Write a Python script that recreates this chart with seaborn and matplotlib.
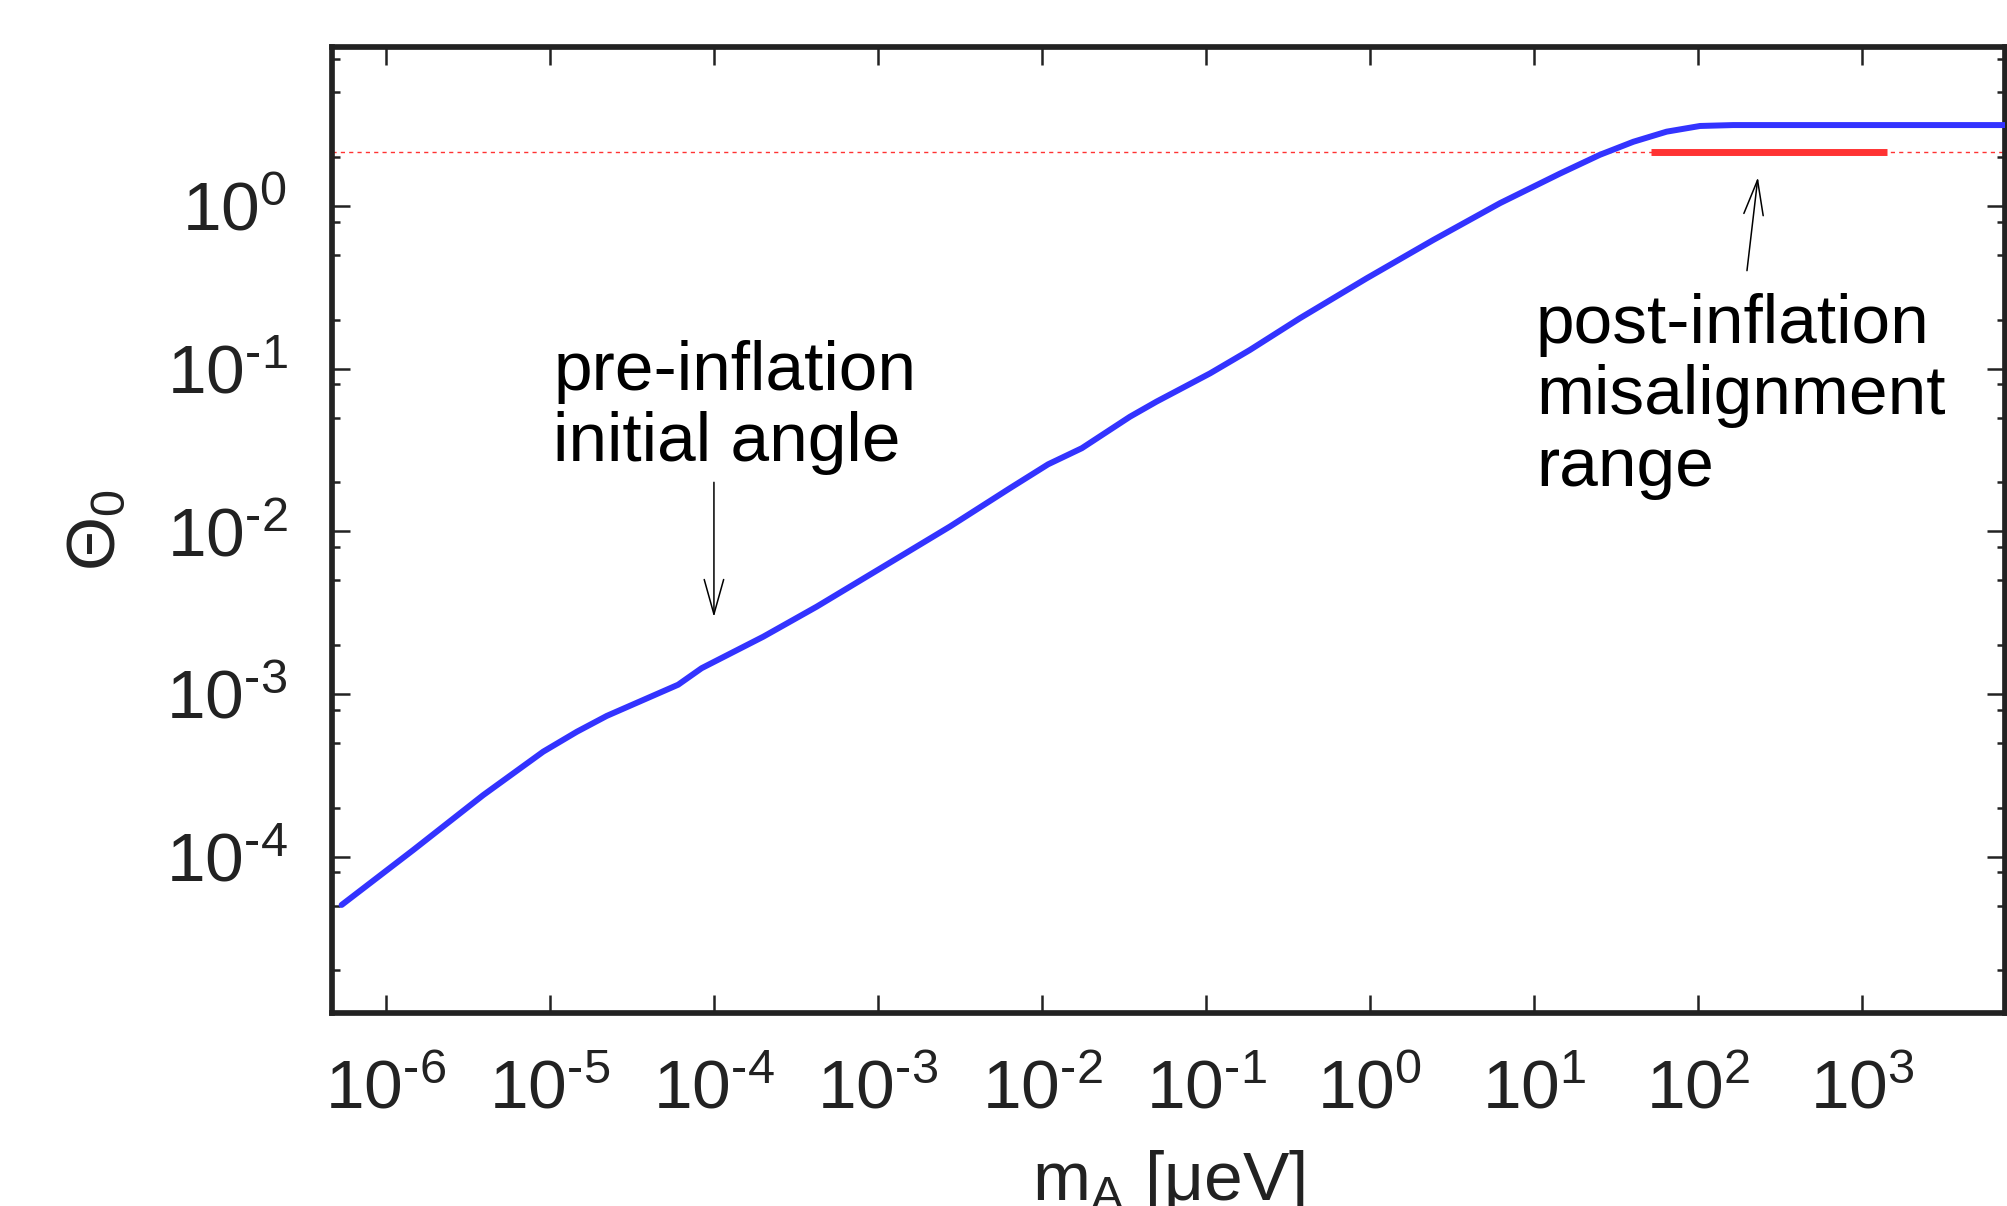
import matplotlib
matplotlib.use("Agg")
import numpy as np
import pandas as pd
import matplotlib.pyplot as plt
import seaborn as sns
from matplotlib.ticker import LogLocator, NullLocator, FuncFormatter

# axion mass [ueV] and initial misalignment angle
mass = [5.37e-7, 1.47e-6, 3.92e-6, 9.10e-6, 1.46e-5, 2.22e-5, 6.05e-5, 8.41e-5,
        2.00e-4, 4.23e-4, 1.36e-3, 2.75e-3, 6.38e-3, 1.09e-2, 1.75e-2, 3.44e-2,
        5.00e-2, 0.106, 0.185, 0.374, 0.955, 2.43, 6.21, 14.4, 25.2, 40.4, 64.4,
        103.0, 164.0, 400.0, 7450.0]
theta = [5.05e-5, 1.10e-4, 2.39e-4, 4.42e-4, 5.86e-4, 7.33e-4, 1.14e-3, 1.44e-3,
         2.25e-3, 3.44e-3, 6.98e-3, 1.07e-2, 1.84e-2, 2.58e-2, 3.24e-2, 5.06e-2,
         6.27e-2, 9.35e-2, 0.130, 0.204, 0.359, 0.617, 1.04, 1.58, 2.06, 2.48, 2.86,
         3.10, 3.14, 3.14, 3.14]

# post-inflation average angle and the mass range it belongs to
theta_avg = 2.155
post_range = [51.6, 1420.0]

xlim = (4.69e-7, 7.45e3)
ylim = (1.094e-5, 9.48)

sns.set_theme(style="ticks")
plt.rcParams["font.family"] = ["Liberation Sans", "DejaVu Sans"]
plt.rcParams["mathtext.fontset"] = "custom"
plt.rcParams["mathtext.rm"] = "Liberation Sans"
plt.rcParams["mathtext.it"] = "Liberation Sans:italic"
plt.rcParams["mathtext.bf"] = "Liberation Sans:bold"

dark = "#222222"
W, H = 2008, 1206
fig = plt.figure(figsize=(W / 100, H / 100), dpi=100)
ax = fig.add_axes([332 / W, 1 - 1013 / H, (2005 - 332) / W, (1013 - 47) / H])
ax.set(xscale="log", yscale="log")

df = pd.DataFrame({"mass": mass, "theta": theta})
seg = pd.DataFrame({"mass": post_range, "theta": [theta_avg, theta_avg]})

ax.axhline(theta_avg, color="#ff3333", lw=1.0, ls=(0, (3, 3)), zorder=1)
sns.lineplot(data=df, x="mass", y="theta", ax=ax, color="#3333ff", lw=4.3,
             estimator=None, sort=False, zorder=3)
sns.lineplot(data=seg, x="mass", y="theta", ax=ax, color="#ff3333", lw=5.0,
             estimator=None, sort=False, zorder=2, solid_capstyle="butt")

ax.set_xlim(*xlim)
ax.set_ylim(*ylim)

def fmt(v, pos):
    e = int(round(np.log10(v)))
    if e < 0:
        return r"$10^{\text{-}%d}$" % (-e)
    return r"$10^{%d}$" % e

ax.xaxis.set_major_locator(LogLocator(base=10, numticks=30))
ax.xaxis.set_minor_locator(NullLocator())
ax.yaxis.set_major_locator(LogLocator(base=10, numticks=30))
ax.yaxis.set_minor_locator(LogLocator(base=10, subs=(2, 5, 8), numticks=30))
ax.xaxis.set_major_formatter(FuncFormatter(fmt))
ax.yaxis.set_major_formatter(FuncFormatter(fmt))
ax.yaxis.set_minor_formatter(FuncFormatter(lambda v, p: ""))

for s in ax.spines.values():
    s.set_visible(True)
    s.set_linewidth(4.1)
    s.set_color(dark)

ax.tick_params(which="both", direction="in", top=True, right=True,
               left=True, bottom=True, color=dark, width=1.8,
               labelcolor=dark, labelsize=50)
ax.tick_params(which="major", length=13)
ax.tick_params(which="minor", length=6)
ax.tick_params(axis="x", pad=33)
ax.tick_params(axis="y", pad=32)

ax.set_xlabel(r"m$_\mathrm{A}$ [μeV]", fontsize=50, color=dark, labelpad=18)
ax.set_ylabel(r"$\Theta_0$", fontsize=50, color=dark, labelpad=26)

arrow = dict(arrowstyle="->,head_length=1.25,head_width=0.35", lw=1.1,
             color="black", shrinkA=0, shrinkB=0, mutation_scale=20)
ax.annotate("", xy=(1e-4, 2.97e-3), xytext=(1e-4, 0.020), arrowprops=arrow)
ax.annotate("", xy=(232, 1.50), xytext=(199, 0.40), arrowprops=arrow)

ax.text(1.05e-5, 0.150, "pre-inflation\ninitial angle", fontsize=50,
        ha="left", va="top", linespacing=1.15, color="black")
ax.text(10.3, 0.293, "post-inflation\nmisalignment\nrange", fontsize=50,
        ha="left", va="top", linespacing=1.15, color="black")

fig.savefig("out.png", dpi=100)
